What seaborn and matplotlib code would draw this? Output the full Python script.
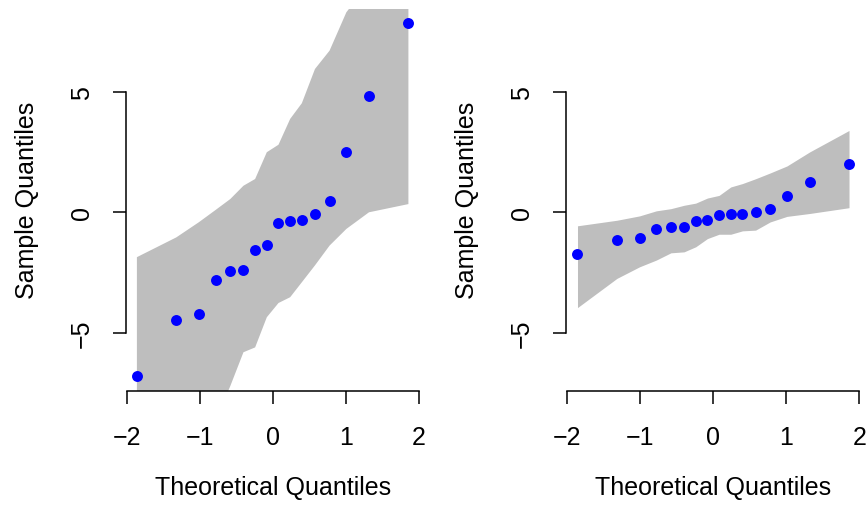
import matplotlib
matplotlib.use("Agg")
import matplotlib.pyplot as plt
import seaborn as sns
import pandas as pd

# Theoretical quantiles (x positions of the 16 points)
theo_q = [-1.86, -1.32, -1.01, -0.78, -0.58, -0.40, -0.24, -0.08,
          0.08, 0.24, 0.40, 0.58, 0.78, 1.01, 1.32, 1.86]

# Left panel
left_sample = [-6.80, -4.46, -4.23, -2.81, -2.42, -2.39, -1.56, -1.36,
               -0.46, -0.37, -0.32, -0.08, 0.47, 2.50, 4.83, 7.86]
left_upper = [-1.86, -1.04, -0.41, 0.10, 0.55, 1.10, 1.38, 2.49,
              2.80, 3.87, 4.52, 5.94, 6.70, 8.29, 9.50, 12.0]
left_lower = [-13.0, -11.0, -10.0, -8.60, -7.20, -5.80, -5.60, -4.35,
              -3.76, -3.52, -2.90, -2.20, -1.38, -0.69, 0.00, 0.34]

# Right panel
right_sample = [-1.74, -1.13, -1.07, -0.70, -0.60, -0.61, -0.38, -0.33,
                -0.10, -0.07, -0.07, 0.00, 0.12, 0.66, 1.25, 2.01]
right_upper = [-0.56, -0.33, -0.15, 0.06, 0.15, 0.29, 0.38, 0.59,
               0.70, 1.05, 1.19, 1.39, 1.63, 1.92, 2.50, 3.39]
right_lower = [-3.95, -2.74, -2.26, -1.98, -1.68, -1.64, -1.43, -1.09,
               -0.91, -0.91, -0.77, -0.74, -0.40, -0.17, -0.05, 0.19]

x_ticks = [-2, -1, 0, 1, 2]
y_ticks = [-5, 0, 5]
x_label = "Theoretical Quantiles"
y_label = "Sample Quantiles"

sns.set_style("ticks")
plt.rcParams["font.family"] = ["Liberation Sans", "DejaVu Sans"]
plt.rcParams["axes.unicode_minus"] = True
plt.rcParams["text.color"] = "black"
plt.rcParams["axes.labelcolor"] = "black"
plt.rcParams["xtick.color"] = "black"
plt.rcParams["ytick.color"] = "black"

W, H = 868, 510
fig = plt.figure(figsize=(W / 100, H / 100), dpi=100)

xlim = (-2.012, 2.012)
ylim = (-7.386, 8.446)
ax_w = 293.7 / W
ax_h = 382.0 / H
ax_b = (H - 391.5) / H
lefts = [125.8 / W, 566.4 / W]

panels = [
    (left_sample, left_upper, left_lower),
    (right_sample, right_upper, right_lower),
]

FS = 18

for left, (samp, up, lo) in zip(lefts, panels):
    ax = fig.add_axes([left, ax_b, ax_w, ax_h])
    df = pd.DataFrame({"theo": theo_q, "sample": samp, "up": up, "lo": lo})
    ax.fill_between(df["theo"], df["lo"], df["up"], color="#BEBEBE",
                    linewidth=0, zorder=1)
    sns.scatterplot(data=df, x="theo", y="sample", ax=ax, color="#0000FF",
                    s=62, linewidth=0, zorder=3)
    ax.set_xlim(*xlim)
    ax.set_ylim(*ylim)
    ax.set_xticks(x_ticks)
    ax.set_yticks(y_ticks)
    ax.set_xticklabels([f"{t}".replace("-", "\u2212") for t in x_ticks])
    ax.set_yticklabels([f"{t}".replace("-", "\u2212") for t in y_ticks],
                       rotation=90, va="center")
    for s in ["top", "right"]:
        ax.spines[s].set_visible(False)
    ax.spines["left"].set_bounds(-5, 5)
    ax.spines["bottom"].set_bounds(-2, 2)
    for s in ["left", "bottom"]:
        ax.spines[s].set_linewidth(1.1)
        ax.spines[s].set_color("black")
    ax.tick_params(axis="both", length=9.7, width=1.1, color="black",
                   labelsize=FS, labelcolor="black")
    ax.tick_params(axis="x", pad=15)
    ax.tick_params(axis="y", pad=13.5)
    ax.set_xlabel(x_label, fontsize=FS, color="black")
    ax.set_ylabel(y_label, fontsize=FS, color="black")
    ax.xaxis.set_label_coords(0.5, -0.222)
    ax.yaxis.set_label_coords(-0.296, 0.5)
    ax.set_facecolor("white")

fig.savefig("out.png", dpi=100, facecolor="white")
